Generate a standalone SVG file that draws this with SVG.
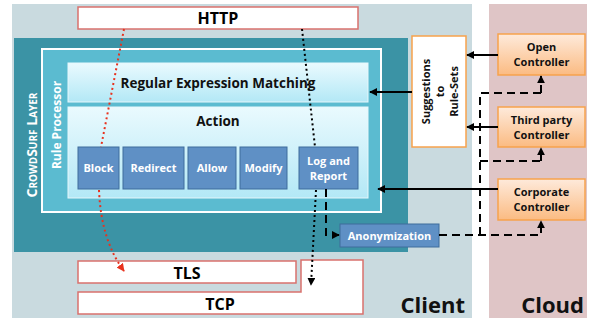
<svg xmlns="http://www.w3.org/2000/svg" width="590" height="322" viewBox="0 0 590 322">
<style>
text{font-family:"Open Sans","Liberation Sans",sans-serif;font-weight:bold}
.lay{fill:#fff;stroke:#d9716d;stroke-width:1.5}
.btn{fill:#5f90c5;stroke:#3f6d9c;stroke-width:1}
.btxt{fill:#fff;font-size:11px;text-anchor:middle}
.ctl{fill:url(#og);stroke:#f7a24c;stroke-width:1.5}
.ctxt{fill:#111;font-size:11px;text-anchor:middle}
.solid{fill:none;stroke:#000;stroke-width:2;marker-end:url(#ah)}
.dash{fill:none;stroke:#000;stroke-width:2;stroke-dasharray:8,5}
.dashA{fill:none;stroke:#000;stroke-width:2;stroke-dasharray:8,5;marker-end:url(#ah)}
.dotk{fill:none;stroke:#000;stroke-width:2;stroke-dasharray:2,3}
.dotr{fill:none;stroke:#e8321e;stroke-width:2;stroke-dasharray:2,3}
</style>
<defs>
<linearGradient id="og" x1="0" y1="0" x2="0" y2="1"><stop offset="0" stop-color="#feeadb"/><stop offset="1" stop-color="#fbbb82"/></linearGradient>
<linearGradient id="bg" x1="0" y1="0" x2="0" y2="1"><stop offset="0" stop-color="#eafafe"/><stop offset="1" stop-color="#b3e8f6"/></linearGradient>
<marker id="ah" viewBox="0 0 10 10" refX="9" refY="5" markerWidth="4" markerHeight="4" orient="auto"><path d="M0,0L10,5L0,10z" fill="#000"/></marker>
<marker id="ahr" viewBox="0 0 10 10" refX="9" refY="5" markerWidth="4" markerHeight="4" orient="auto"><path d="M0,0L10,5L0,10z" fill="#e8321e"/></marker>
</defs>
<g id="client"><rect x="12" y="4" width="460" height="314" fill="#c9dadf"/><text x="465" y="313" font-size="22" text-anchor="end" fill="#111">Client</text></g>
<g id="cloud"><rect x="489" y="4" width="98" height="314" fill="#dfc5c6"/><text x="584" y="313" font-size="22" text-anchor="end" fill="#111">Cloud</text></g>
<g id="http"><rect class="lay" x="78" y="7" width="280" height="22"/><text x="218" y="24" font-size="16" text-anchor="middle" fill="#000">HTTP</text></g>
<g id="crowdsurf"><rect x="14" y="38" width="394" height="214" fill="#3b93a5"/><text transform="translate(37,145) rotate(-90)" font-size="14" fill="#fff" text-anchor="middle" style="font-variant:small-caps">CrowdSurf Layer</text></g>
<g id="ruleproc"><rect x="42" y="49" width="339" height="163" fill="#5bbbd0" stroke="#fff" stroke-width="2"/><text transform="translate(61,125) rotate(-90)" font-size="12" fill="#fff" text-anchor="middle">Rule Processor</text></g>
<g id="regex"><rect x="68" y="63" width="300" height="39" fill="url(#bg)" stroke="#e6f7fb" stroke-width="1"/><text x="218" y="88" font-size="13.5" text-anchor="middle" fill="#111">Regular Expression Matching</text></g>
<g id="action"><rect x="68" y="107" width="300" height="91" fill="url(#bg)" stroke="#e6f7fb" stroke-width="1"/><text x="218" y="126" font-size="13.5" text-anchor="middle" fill="#111">Action</text></g>
<g id="block"><rect class="btn" x="78" y="147" width="41" height="42"/><text class="btxt" x="98.5" y="172">Block</text></g>
<g id="redirect"><rect class="btn" x="123" y="147" width="61" height="42"/><text class="btxt" x="153.5" y="172">Redirect</text></g>
<g id="allow"><rect class="btn" x="188" y="147" width="48" height="42"/><text class="btxt" x="212" y="172">Allow</text></g>
<g id="modify"><rect class="btn" x="240" y="147" width="47" height="42"/><text class="btxt" x="263.5" y="172">Modify</text></g>
<g id="logreport"><rect class="btn" x="299" y="147" width="59" height="42"/><text class="btxt" x="328.5" y="165">Log and</text><text class="btxt" x="328.5" y="180">Report</text></g>
<g id="suggestions"><rect x="412" y="36" width="54" height="111" fill="#fff" stroke="#f7a24c" stroke-width="1.5"/><text transform="translate(439,91.5) rotate(-90)" font-size="11" fill="#111" text-anchor="middle"><tspan x="0" y="-9">Suggestions</tspan><tspan x="0" y="5">to</tspan><tspan x="0" y="19">Rule-Sets</tspan></text></g>
<g id="open"><rect class="ctl" x="498" y="34" width="87" height="41"/><text class="ctxt" x="541.5" y="51">Open</text><text class="ctxt" x="541.5" y="66">Controller</text></g>
<g id="thirdparty"><rect class="ctl" x="498" y="107" width="87" height="40"/><text class="ctxt" x="541.5" y="124">Third party</text><text class="ctxt" x="541.5" y="139">Controller</text></g>
<g id="corporate"><rect class="ctl" x="498" y="179" width="87" height="41"/><text class="ctxt" x="541.5" y="196">Corporate</text><text class="ctxt" x="541.5" y="211">Controller</text></g>
<g id="anon"><rect class="btn" x="340" y="224" width="99" height="23"/><text class="btxt" x="389.5" y="240">Anonymization</text></g>
<g id="tls"><rect class="lay" x="78" y="261" width="218" height="22"/><text x="187" y="279" font-size="16" text-anchor="middle" fill="#000">TLS</text></g>
<g id="tcp"><path class="lay" d="M78,292H301V260H363V314H78Z"/><text x="220" y="310" font-size="16" text-anchor="middle" fill="#000">TCP</text></g>
<g id="connectors">
<path class="solid" d="M498,55H467"/>
<path class="solid" d="M498,127H467"/>
<path class="solid" d="M412,92H370"/>
<path class="solid" d="M498,189H378"/>
<path class="dashA" d="M326,189V235H339"/>
<path class="dashA" d="M439,235H541V221"/>
<path class="dash" d="M480,235V93H541"/>
<path class="dashA" d="M541,93V76"/>
<path class="dash" d="M480,161H541"/>
<path class="dashA" d="M541,161V148"/>
<path class="dotr" d="M124,29L101,147"/>
<path class="dotr" d="M99,190Q101,240 124,271" marker-end="url(#ahr)"/>
<path class="dotk" d="M302,29L315,147"/>
<path class="dotk" d="M316,190L311,285" marker-end="url(#ah)"/>
</g>
</svg>
